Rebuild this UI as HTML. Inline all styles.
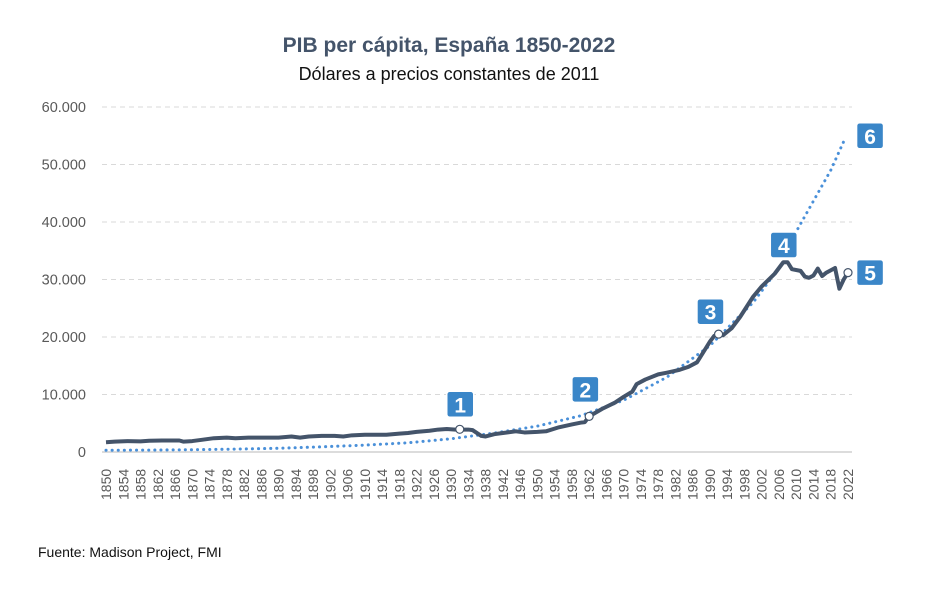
<!DOCTYPE html>
<html><head><meta charset="utf-8"><style>
body{margin:0;background:#fff;font-family:"Liberation Sans",sans-serif}
svg text{font-family:"Liberation Sans",sans-serif}
</style></head><body>
<svg id="chart" width="933" height="587">
<text x="449" y="52" text-anchor="middle" font-size="21" font-weight="bold" fill="#44546a">PIB per cápita, España 1850-2022</text>
<text x="449" y="80" text-anchor="middle" font-size="18" fill="#111">Dólares a precios constantes de 2011</text>
<text x="38" y="557" font-size="14" fill="#111">Fuente: Madison Project, FMI</text>
<g id="grid"></g><g id="axes"></g><g id="series"></g><g id="labels"></g>
</svg>
<script>
const yTicks=[0,10000,20000,30000,40000,50000,60000];
const yTickLabels=["0","10.000","20.000","30.000","40.000","50.000","60.000"];
const gdpYears=[1850,1852,1855,1858,1860,1863,1865,1867,1868,1870,1872,1875,1878,1880,1883,1885,1887,1890,1893,1895,1897,1900,1903,1905,1907,1910,1913,1915,1918,1920,1922,1925,1927,1929,1931,1932,1934,1935,1936,1937,1938,1940,1942,1945,1947,1950,1952,1955,1958,1960,1961,1962,1965,1968,1970,1972,1973,1975,1978,1980,1983,1985,1987,1989,1990,1991,1992,1993,1995,1997,2000,2002,2005,2007,2008,2009,2011,2012,2013,2014,2015,2016,2017,2019,2020,2021,2022];
const gdpValues=[1700,1800,1900,1850,1950,2000,2000,2000,1800,1900,2100,2400,2500,2400,2500,2500,2500,2500,2700,2500,2700,2800,2800,2700,2900,3000,3000,3000,3200,3300,3500,3700,3900,4000,3900,3900,3900,3800,3300,2800,2700,3100,3300,3600,3400,3500,3600,4300,4800,5100,5200,6200,7500,8600,9600,10500,11800,12600,13500,13800,14300,14800,15600,18000,19200,20200,20500,20300,21500,23500,27000,28800,31000,33000,33000,31800,31500,30500,30300,30700,31900,30600,31200,32000,28400,30000,31200];
const trendYears=[1850,1860,1870,1880,1890,1900,1910,1920,1930,1940,1950,1960,1970,1980,1990,2000,2006];
const trendValues=[300,330,400,500,650,900,1200,1600,2300,3300,4500,6300,9000,13000,18500,26000,32000];
const trend2Years=[2009,2012,2015,2018,2021];
const trend2Values=[37000,41000,45000,49000,54000];
const markerYears=[1932,1962,1992,2022];
const markerValues=[3950,6200,20500,31200];
const badgeText=["1","2","3","4","5","6"];
const badgeYears=[1932,1961,1990,2007,2027,2027];
const badgeValues=[8300,10900,24400,36000,31200,55000];
const x0=106,x1=848,y0=452,yTop=107;
const xs=y=>x0+(y-1850)*(x1-x0)/172;
const ys=v=>y0-v*(y0-yTop)/60000;
const NS="http://www.w3.org/2000/svg";
function mk(p,t,a){const e=document.createElementNS(NS,t);for(const k in a)e.setAttribute(k,a[k]);p.appendChild(e);return e;}
const grid=document.getElementById('grid'),axes=document.getElementById('axes'),ser=document.getElementById('series'),lab=document.getElementById('labels');
yTicks.forEach((v,i)=>{
 if(v>0){const l=mk(grid,'line',{x1:x0-4,x2:x1+4,y1:ys(v),y2:ys(v),stroke:'#d9d9d9','stroke-dasharray':'5,4'});
 
 }
 const t=mk(axes,'text',{x:86,y:ys(v)+5,'text-anchor':'end','font-size':'14.5',fill:'#595959'});t.textContent=yTickLabels[i];
 
 
});
const ax=mk(axes,'line',{x1:x0-4,x2:x1+4,y1:y0,y2:y0,stroke:'#d0d0d0','stroke-width':1.5});


for(let y=1850;y<=2022;y+=4){const t=mk(axes,'text',{transform:`translate(${xs(y)+5},${y0+48}) rotate(-90)`,'font-size':'14',fill:'#595959'});t.textContent=y;
 
 }
const tp=(ya,va)=>ya.map((y,i)=>xs(y)+','+ys(va[i])).join(' ');
const t1=mk(ser,'polyline',{points:tp(trendYears,trendValues),fill:'none',stroke:'#4a90d9','stroke-width':3,'stroke-dasharray':'0.1,6','stroke-linecap':'round'});


const t2=mk(ser,'polyline',{points:tp(trend2Years,trend2Values),fill:'none',stroke:'#4a90d9','stroke-width':3,'stroke-dasharray':'0.1,6','stroke-linecap':'round'});


const g=mk(ser,'polyline',{points:tp(gdpYears,gdpValues),fill:'none',stroke:'#44546a','stroke-width':4,'stroke-linejoin':'round'});


markerYears.forEach((y,i)=>{const c=mk(ser,'circle',{cx:xs(y),cy:ys(markerValues[i]),r:4,fill:'#fff',stroke:'#44546a','stroke-width':1.2});
 
 });
badgeText.forEach((s,i)=>{const cx=xs(badgeYears[i]),cy=ys(badgeValues[i]);
 const r=mk(lab,'rect',{x:cx-13,y:cy-13,width:27,height:26,rx:3,fill:'#3a86c8',stroke:'#fff','stroke-width':1.5});
 
 
 const t=mk(lab,'text',{x:cx+0.5,y:cy+8,'text-anchor':'middle','font-size':'21','font-weight':'bold',fill:'#fff'});t.textContent=s;
 
 });
</script>
</body></html>
